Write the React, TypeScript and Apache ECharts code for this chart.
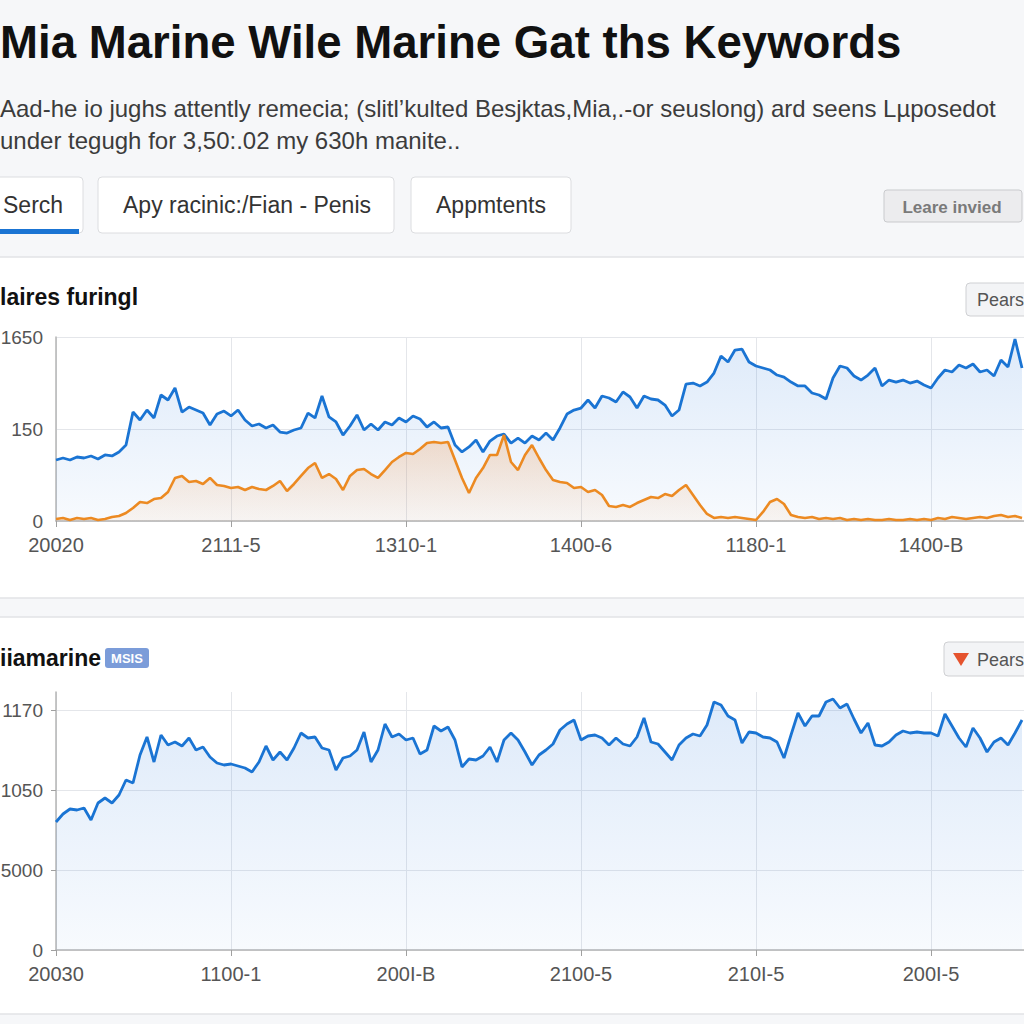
import React, { useEffect, useRef } from "react";
import * as echarts from "echarts";

// ---- Data ----
const topXLabels = ["20020", "2111-5", "1310-1", "1400-6", "1180-1", "1400-B", ""];
const bottomXLabels = ["20030", "1100-1", "200I-B", "2100-5", "210I-5", "200I-5", ""];
const topYLabels = ["0", "150", "1650"]; // at 0, 825, 1650
const bottomYLabels = ["0", "5000", "1050", "1170"]; // at 0, 400, 800, 1200

const topBlue = [
  547, 565, 547, 574, 565, 583, 556, 592, 583, 619,
  681, 977, 906, 995, 924, 1130, 1085, 1193, 977, 1022,
  995, 968, 861, 959, 986, 942, 995, 906, 852, 870,
  834, 861, 798, 789, 816, 834, 968, 924, 1121, 933,
  888, 771, 852, 951, 816, 870, 816, 888, 861, 924,
  888, 942, 915, 843, 888, 834, 843, 681, 619, 664,
  726, 619, 717, 762, 780, 699, 744, 699, 762, 726,
  789, 726, 834, 959, 995, 1013, 1085, 1013, 1121, 1103,
  1067, 1157, 1112, 1013, 1121, 1094, 1085, 1040, 942, 995,
  1228, 1237, 1211, 1246, 1327, 1480, 1426, 1533, 1542, 1426,
  1390, 1372, 1354, 1309, 1291, 1246, 1211, 1211, 1148, 1130,
  1094, 1282, 1390, 1372, 1300, 1264, 1309, 1372, 1211, 1264,
  1246, 1264, 1237, 1255, 1220, 1193, 1282, 1354, 1336, 1399,
  1372, 1408, 1336, 1354, 1300, 1444, 1381, 1632, 1372,
];

const topOrange = [
  18, 27, 9, 27, 18, 27, 9, 18, 36, 45,
  72, 117, 170, 161, 197, 206, 260, 386, 404, 350,
  359, 332, 386, 323, 314, 296, 305, 278, 305, 287,
  278, 314, 359, 269, 332, 404, 475, 520, 386, 421,
  377, 278, 404, 457, 466, 421, 386, 457, 529, 574,
  610, 601, 646, 699, 708, 699, 708, 547, 386, 251,
  386, 475, 592, 592, 771, 529, 457, 592, 681, 565,
  457, 368, 350, 341, 296, 305, 260, 278, 233, 135,
  126, 143, 126, 161, 188, 215, 206, 242, 224, 278,
  323, 233, 143, 63, 27, 36, 27, 36, 27, 18,
  9, 81, 170, 197, 152, 54, 36, 27, 36, 18,
  27, 18, 27, 9, 18, 9, 18, 9, 9, 18,
  9, 9, 18, 9, 18, 9, 27, 18, 36, 27,
  18, 27, 36, 27, 45, 54, 36, 45, 27,
];

const bottomBlue = [
  640, 680, 705, 700, 710, 650, 735, 760, 735, 775,
  850, 835, 975, 1065, 940, 1075, 1025, 1040, 1020, 1060,
  1000, 1015, 965, 935, 925, 930, 920, 910, 890, 940,
  1020, 950, 990, 950, 1010, 1085, 1060, 1065, 1010, 1000,
  900, 960, 970, 1000, 1090, 940, 1000, 1130, 1065, 1080,
  1050, 1060, 980, 1000, 1120, 1095, 1115, 1050, 915, 955,
  950, 970, 1015, 940, 1050, 1085, 1050, 990, 925, 975,
  1000, 1030, 1100, 1130, 1150, 1050, 1070, 1075, 1060, 1025,
  1060, 1030, 1020, 1065, 1160, 1040, 1030, 990, 950, 1025,
  1060, 1080, 1070, 1125, 1240, 1225, 1170, 1150, 1035, 1090,
  1085, 1065, 1060, 1040, 960, 1075, 1185, 1120, 1170, 1170,
  1240, 1255, 1210, 1230, 1155, 1085, 1135, 1025, 1020, 1040,
  1075, 1095, 1085, 1090, 1085, 1085, 1070, 1180, 1120, 1060,
  1015, 1110, 1060, 990, 1040, 1060, 1025, 1085, 1150,
];

const STEP = 25;
const makeCats = (labels: string[]) =>
  Array.from({ length: (labels.length - 1) * STEP + 1 }, (_, i) =>
    i % STEP === 0 ? labels[i / STEP] : "c" + i
  );
const topCats = makeCats(topXLabels);
const bottomCats = makeCats(bottomXLabels);

const BLUE = "#1a74d3";
const ORANGE = "#ec8a22";
const FONT = "'Liberation Sans', Arial, sans-serif";

export default function App() {
  const ref = useRef<HTMLDivElement>(null);
  useEffect(() => {
    if (!ref.current) return;
    const chart = echarts.init(ref.current, null, { renderer: "svg" });

    const blueArea = {
      color: new echarts.graphic.LinearGradient(0, 0, 0, 1, [
        { offset: 0, color: "rgba(40,120,220,0.22)" },
        { offset: 1, color: "rgba(40,120,220,0.05)" },
      ]),
    };
    const orangeArea = {
      color: new echarts.graphic.LinearGradient(0, 0, 0, 1, [
        { offset: 0, color: "rgba(240,140,60,0.38)" },
        { offset: 1, color: "rgba(240,160,90,0.10)" },
      ]),
    };

    const xAxisCommon = (cats: string[], gridIndex: number) => ({
      type: "category",
      gridIndex,
      data: cats,
      boundaryGap: false,
      axisLine: { show: true, lineStyle: { color: "#b5b5b5", width: 1.5 } },
      axisTick: { show: true, interval: STEP - 1, length: 6, lineStyle: { color: "#a0a0a0" } },
      axisLabel: {
        interval: STEP - 1,
        margin: 14,
        fontSize: 20,
        color: "#555",
        fontFamily: FONT,
        formatter: (v: string) => (v.startsWith("c") ? "" : v),
      },
      splitLine: { show: true, interval: STEP - 1, lineStyle: { color: "#e4e6ea", width: 1 } },
    });

    const option: any = {
      animation: false,
      backgroundColor: "#f6f7f9",
      graphic: [
        // cards
        { type: "rect", shape: { x: -2, y: 257, width: 1120, height: 341 }, style: { fill: "#ffffff", stroke: "#e2e3e6", lineWidth: 1.5 }, z: -10 },
        { type: "rect", shape: { x: -2, y: 617, width: 1120, height: 397 }, style: { fill: "#ffffff", stroke: "#e2e3e6", lineWidth: 1.5 }, z: -10 },
        // title
        { type: "text", x: 0, y: 42, scaleX: 0.97, style: { text: "Mia Marine Wile Marine Gat ths Keywords", font: `bold 47px ${FONT}`, fill: "#111", verticalAlign: "middle" } },
        { type: "text", x: 0, y: 108, style: { text: "Aad-he io jughs attently remecia; (slitl\u2019kulted Besjktas,Mia,.-or seuslong) ard seens L\u00b5posedot", font: `24px ${FONT}`, fill: "#3c3c3c", verticalAlign: "middle" } },
        { type: "text", x: 0, y: 140, style: { text: "under tegugh for 3,50:.02 my 630h manite..", font: `24px ${FONT}`, fill: "#3c3c3c", verticalAlign: "middle" } },
        // tabs
        { type: "rect", shape: { x: -10, y: 177, width: 93, height: 56, r: 4 }, style: { fill: "#fff", stroke: "#dcdde0", lineWidth: 1 } },
        { type: "rect", shape: { x: 0, y: 229, width: 79, height: 5 }, style: { fill: "#1a74d3" } },
        { type: "text", x: 3, y: 205, style: { text: "Serch", font: `23px ${FONT}`, fill: "#333", verticalAlign: "middle" } },
        { type: "rect", shape: { x: 98, y: 177, width: 296, height: 56, r: 4 }, style: { fill: "#fff", stroke: "#dcdde0", lineWidth: 1 } },
        { type: "text", x: 247, y: 205, style: { text: "Apy racinic:/Fian - Penis", font: `23px ${FONT}`, fill: "#333", align: "center", verticalAlign: "middle" } },
        { type: "rect", shape: { x: 411, y: 177, width: 160, height: 56, r: 4 }, style: { fill: "#fff", stroke: "#dcdde0", lineWidth: 1 } },
        { type: "text", x: 491, y: 205, style: { text: "Appmtents", font: `23px ${FONT}`, fill: "#333", align: "center", verticalAlign: "middle" } },
        // right button
        { type: "rect", shape: { x: 884, y: 190, width: 138, height: 32, r: 3 }, style: { fill: "#ececee", stroke: "#c9cacd", lineWidth: 1 } },
        { type: "text", x: 952, y: 207, style: { text: "Leare invied", font: `bold 17px ${FONT}`, fill: "#7a7a7a", align: "center", verticalAlign: "middle" } },
        // top card header
        { type: "text", x: 0, y: 297, style: { text: "laires furingl", font: `bold 23px ${FONT}`, fill: "#111", verticalAlign: "middle" } },
        { type: "rect", shape: { x: 966, y: 283, width: 80, height: 33, r: 4 }, style: { fill: "#f3f4f6", stroke: "#cfd0d3", lineWidth: 1 } },
        { type: "text", x: 977, y: 300, style: { text: "Pears", font: `18px ${FONT}`, fill: "#555", verticalAlign: "middle" } },
        // bottom card header
        { type: "text", x: 0, y: 658, style: { text: "iiamarine", font: `bold 23px ${FONT}`, fill: "#111", verticalAlign: "middle" } },
        { type: "rect", shape: { x: 105, y: 648, width: 44, height: 20, r: 3 }, style: { fill: "#7b9cd9" } },
        { type: "text", x: 127, y: 658, style: { text: "MSIS", font: `bold 13px ${FONT}`, fill: "#fff", align: "center", verticalAlign: "middle" } },
        { type: "rect", shape: { x: 944, y: 642, width: 100, height: 34, r: 4 }, style: { fill: "#f3f4f6", stroke: "#cfd0d3", lineWidth: 1 } },
        { type: "polygon", shape: { points: [[953, 653], [969, 653], [961, 666]] }, style: { fill: "#e5532e" } },
        { type: "text", x: 977, y: 660, style: { text: "Pears", font: `18px ${FONT}`, fill: "#555", verticalAlign: "middle" } },
      ],
      grid: [
        { left: 56, width: 1050, top: 337, height: 184, containLabel: false, outerBoundsMode: "none" },
        { left: 56, width: 1050, top: 692, height: 258, containLabel: false, outerBoundsMode: "none" },
      ],
      xAxis: [xAxisCommon(topCats, 0), xAxisCommon(bottomCats, 1)],
      yAxis: [
        {
          type: "value",
          gridIndex: 0,
          min: 0,
          max: 1650,
          interval: 825,
          axisLine: { show: true, lineStyle: { color: "#b5b5b5", width: 1.5 } },
          axisTick: { show: false },
          axisLabel: {
            margin: 13,
            fontSize: 19,
            color: "#555",
            fontFamily: FONT,
            formatter: (v: number) => topYLabels[Math.round(v / 825)] ?? "",
          },
          splitLine: { show: true, lineStyle: { color: "#e4e6ea" } },
        },
        {
          type: "value",
          gridIndex: 1,
          min: 0,
          max: 1290,
          interval: 400,
          axisLine: { show: true, lineStyle: { color: "#b5b5b5", width: 1.5 } },
          axisTick: { show: true, length: 5, lineStyle: { color: "#a0a0a0" } },
          axisLabel: {
            margin: 13,
            fontSize: 19,
            color: "#555",
            fontFamily: FONT,
            showMaxLabel: false,
            formatter: (v: number) => (v % 400 === 0 ? bottomYLabels[v / 400] ?? "" : ""),
          },
          splitLine: { show: true, showMaxLine: false, lineStyle: { color: "#e4e6ea" } },
        },
      ],
      series: [
        {
          type: "line",
          xAxisIndex: 0,
          yAxisIndex: 0,
          data: topBlue,
          symbol: "none",
          lineStyle: { color: BLUE, width: 2.8 },
          areaStyle: blueArea,
          z: 3,
        },
        {
          type: "line",
          xAxisIndex: 0,
          yAxisIndex: 0,
          data: topOrange,
          symbol: "none",
          lineStyle: { color: ORANGE, width: 2.6 },
          areaStyle: orangeArea,
          z: 4,
        },
        {
          type: "line",
          xAxisIndex: 1,
          yAxisIndex: 1,
          data: bottomBlue,
          symbol: "none",
          lineStyle: { color: BLUE, width: 2.8 },
          areaStyle: blueArea,
          z: 3,
        },
      ],
    };
    chart.setOption(option);
    return () => chart.dispose();
  }, []);

  return (
    <div style={{ position: "fixed", left: 0, top: 0, width: 1024, height: 1024, overflow: "hidden" }}>
      <div ref={ref} style={{ width: 1110, height: 1024 }} />
    </div>
  );
}
